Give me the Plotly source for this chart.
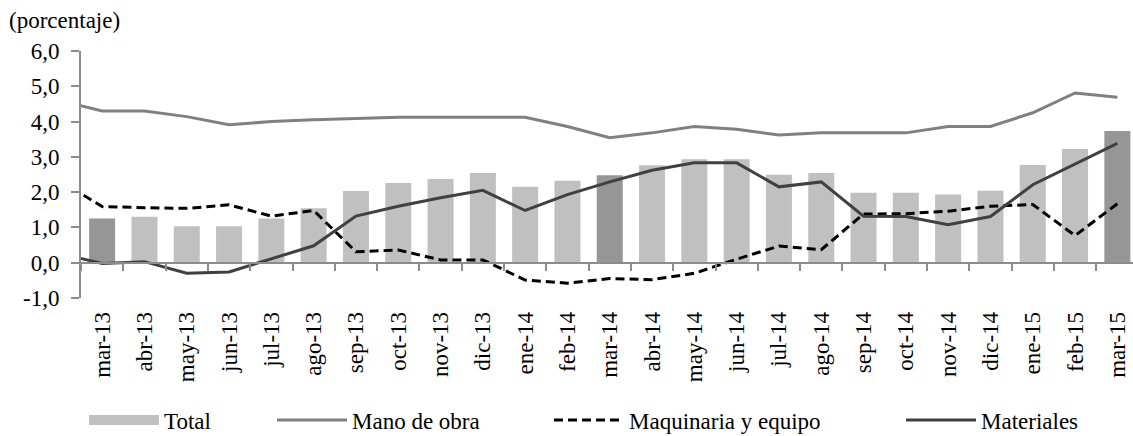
import plotly.graph_objects as go

# ---- data ----
categories = ["mar-13", "abr-13", "may-13", "jun-13", "jul-13", "ago-13", "sep-13",
              "oct-13", "nov-13", "dic-13", "ene-14", "feb-14", "mar-14", "abr-14",
              "may-14", "jun-14", "jul-14", "ago-14", "sep-14", "oct-14", "nov-14",
              "dic-14", "ene-15", "feb-15", "mar-15"]
# lines start one month earlier (clipped at the left edge in the original)
line_categories = ["feb-13"] + categories

total = [1.25, 1.30, 1.03, 1.03, 1.25, 1.54, 2.03, 2.26, 2.37, 2.54, 2.15, 2.32, 2.48,
         2.76, 2.93, 2.93, 2.49, 2.54, 1.98, 1.98, 1.93, 2.04, 2.77, 3.22, 3.73]
mano_de_obra = [4.60, 4.30, 4.30, 4.14, 3.91, 4.00, 4.05, 4.08, 4.12, 4.12, 4.12, 4.12,
                3.86, 3.54, 3.68, 3.86, 3.78, 3.62, 3.68, 3.68, 3.68, 3.86, 3.86,
                4.25, 4.81, 4.69]
maquinaria = [2.33, 1.59, 1.56, 1.54, 1.64, 1.32, 1.48, 0.31, 0.36, 0.08, 0.08, -0.49,
              -0.58, -0.45, -0.48, -0.30, 0.10, 0.47, 0.37, 1.38, 1.39, 1.46, 1.60,
              1.65, 0.77, 1.67]
materiales = [0.26, -0.02, 0.03, -0.30, -0.26, 0.10, 0.48, 1.32, 1.60, 1.84, 2.05, 1.48,
              1.93, 2.29, 2.62, 2.83, 2.83, 2.15, 2.29, 1.32, 1.31, 1.08, 1.31, 2.21,
              2.79, 3.38]
y_ticks = [-1, 0, 1, 2, 3, 4, 5, 6]
y_min, y_max = -1, 6
y_label = "(porcentaje)"

# ---- style ----
FONT = "Liberation Serif"
FS = 23
AX = "#8c8c8c"
bar_light, bar_dark = "#c0c0c0", "#969696"
bar_colors = [bar_dark if c.startswith("mar") else bar_light for c in categories]

W, H = 1133, 436
L, T, B = 81, 51, 138
x_range = [0.5, 25.37]

fig = go.Figure()
fig.add_trace(go.Bar(x=categories, y=total, marker=dict(color=bar_colors, line_width=0),
                     showlegend=False, name="Total"))
# legend entry for Total (wide grey swatch as in the original)
fig.add_trace(go.Scatter(x=[None], y=[None], mode="lines", name="Total",
                         line=dict(color=bar_light, width=13), legend="legend"))
fig.add_trace(go.Scatter(x=line_categories, y=mano_de_obra, mode="lines", name="Mano de obra",
                         line=dict(color="#808080", width=3), legend="legend2"))
fig.add_trace(go.Scatter(x=line_categories, y=maquinaria, mode="lines",
                         name="Maquinaria y equipo",
                         line=dict(color="#000000", width=3, dash="9px,5px"), legend="legend3"))
fig.add_trace(go.Scatter(x=line_categories, y=materiales, mode="lines", name="Materiales",
                         line=dict(color="#404040", width=3), legend="legend4"))

def legend_at(xpx):
    return dict(orientation="h", xref="container", yref="container",
                x=xpx / W, y=(H - 420) / H, xanchor="left", yanchor="middle",
                itemwidth=70, font=dict(family=FONT, size=FS, color="#000"),
                bgcolor="rgba(0,0,0,0)", borderwidth=0, tracegroupgap=0)

fig.update_layout(
    width=W, height=H,
    margin=dict(l=L, r=0, t=T, b=B, pad=0, autoexpand=False),
    plot_bgcolor="white", paper_bgcolor="white",
    font=dict(family=FONT, size=FS, color="#000"),
    bargap=0.385,
    title=dict(text=y_label, xref="container", yref="container", x=9 / W, y=1 - 12 / H,
               xanchor="left", yanchor="top", font=dict(family=FONT, size=FS, color="#000")),
    legend=legend_at(84), legend2=legend_at(272), legend3=legend_at(549),
    legend4=legend_at(901),
    xaxis=dict(type="category", categoryarray=line_categories, categoryorder="array",
               range=x_range, anchor="free", position=(0 - y_min) / (y_max - y_min),
               showline=True, linecolor=AX, linewidth=2,
               ticks="outside", tickson="boundaries", ticklen=7, tickwidth=2, tickcolor=AX,
               showgrid=False, zeroline=False, tickangle=-90, ticklabelstandoff=39,
               automargin=False, tickfont=dict(family=FONT, size=FS, color="#000")),
    yaxis=dict(range=[y_min, y_max], tickvals=y_ticks,
               ticktext=[f"{v:.1f}".replace(".", ",") for v in y_ticks],
               showline=True, linecolor=AX, linewidth=2, ticks="outside", ticklen=8,
               tickwidth=2, tickcolor=AX, showgrid=False, zeroline=False, automargin=False,
               ticklabelstandoff=7, tickfont=dict(family=FONT, size=FS, color="#000")),
)

fig.write_html("out.html", config={"displayModeBar": False},
               post_script="document.body.style.margin='0';document.body.style.padding='0';")
